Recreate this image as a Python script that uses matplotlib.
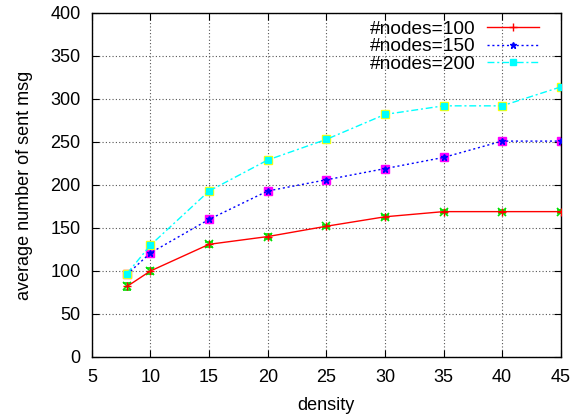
import matplotlib
matplotlib.use("Agg")
import matplotlib.pyplot as plt

plt.rcParams['font.family'] = ['Liberation Sans', 'DejaVu Sans']

density = [8, 10, 15, 20, 25, 30, 35, 40, 45]
nodes100 = [82, 100, 131, 140, 152, 163, 169, 169, 169]
nodes150 = [96, 121, 160, 193, 206, 219, 232, 251, 251]
nodes200 = [97, 130, 193, 229, 253, 282, 292, 292, 314]
err100 = [4, 3, 3, 3, 2, 2, 2, 2, 2]
err150 = [3, 3, 3, 3, 2, 2, 3, 2, 2]
err200 = [4, 4, 4, 4, 3, 3, 3, 3, 3]

labels = ['#nodes=100', '#nodes=150', '#nodes=200']
xticks = [5, 10, 15, 20, 25, 30, 35, 40, 45]
yticks = [0, 50, 100, 150, 200, 250, 300, 350, 400]

FS = 13

fig = plt.figure(figsize=(5.74, 4.18), dpi=100)
ax = fig.add_axes([0.160, 0.146, 0.817, 0.823])

# error bar overlays
ax.errorbar(density, nodes100, yerr=err100, fmt='x', color='#00e000', ms=6, mew=1.2,
            capsize=3, elinewidth=1, zorder=2)
ax.errorbar(density, nodes150, yerr=err150, fmt='s', color='#ff00ff', ms=6,
            capsize=3, elinewidth=1, zorder=2)
ax.errorbar(density, nodes200, yerr=err200, fmt='s', color='#ffff00', ms=6,
            capsize=3, elinewidth=1, zorder=2)

ax.plot(density, nodes100, color='#ff0000', lw=1, ls='-', marker='+', ms=6,
        label=labels[0], zorder=3)
ax.plot(density, nodes150, color='#0000ff', lw=1, ls=(0, (1.5, 2)), marker='*', ms=5,
        label=labels[1], zorder=3)
ax.plot(density, nodes200, color='#00ffff', lw=1, ls=(0, (5, 2, 1.5, 2)), marker='s', ms=4,
        label=labels[2], zorder=3)

ax.set_xlim(5, 45)
ax.set_ylim(0, 400)
ax.set_xticks(xticks)
ax.set_yticks(yticks)
ax.tick_params(direction='in', top=True, right=True, labelsize=FS, length=5)
ax.tick_params(axis='x', pad=9)
ax.tick_params(axis='y', pad=8)
ax.grid(True, ls=(0, (1, 2)), color='#555555', lw=0.8)
ax.set_xlabel('density', fontsize=FS)
ax.set_ylabel('average number of sent msg', fontsize=FS)
ax.xaxis.set_label_coords(0.5, -0.117)
ax.yaxis.set_label_coords(-0.126, 0.5)
for s in ax.spines.values():
    s.set_linewidth(1)

leg = ax.legend(loc='upper right', bbox_to_anchor=(0.970, 1.0), frameon=False,
                markerfirst=False, fontsize=13.8, handlelength=2.7, labelspacing=0.0,
                borderaxespad=0.0, handletextpad=0.6)
for col in leg._legend_handle_box.get_children():
    col.align = 'left'

fig.savefig('out.png', dpi=100)
